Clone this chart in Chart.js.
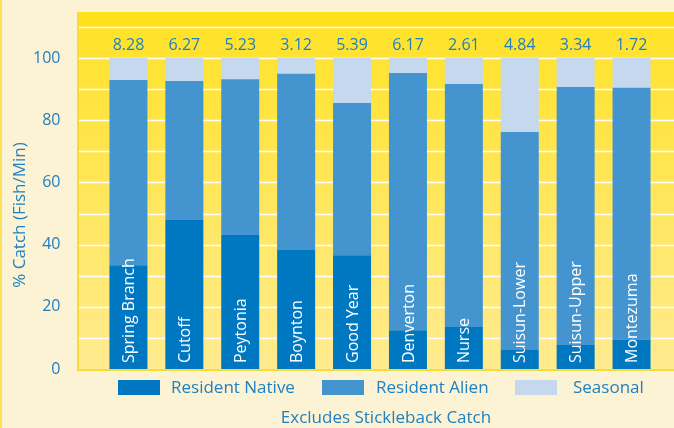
<!DOCTYPE html>
<html lang="en">
<head>
    <meta charset="UTF-8">
    <title>% Catch by Site</title>
    <script src="https://cdn.jsdelivr.net/npm/chart.js"></script>
    <style>
        body {
            margin: 0;
            padding: 0;
            background: #fcf2d4;
        }
        #wrap {
            width: 674px;
            height: 428px;
        }
    </style>
</head>
<body>
    <div id="wrap"><canvas id="chart" width="674" height="428"></canvas></div>

    <script>
        const sites = ["Spring Branch", "Cutoff", "Peytonia", "Boynton", "Good Year",
                       "Denverton", "Nurse", "Suisun-Lower", "Suisun-Upper", "Montezuma"];
        const catchRates = ["8.28", "6.27", "5.23", "3.12", "5.39", "6.17", "2.61", "4.84", "3.34", "1.72"];
        const residentNative = [33.4, 47.9, 43.1, 38.3, 36.6, 12.5, 13.5, 6.1, 7.7, 9.5];
        const residentAlien = [59.5, 44.7, 50.1, 56.6, 48.9, 82.7, 78.1, 70.1, 83.0, 80.9];
        const seasonal = [7.1, 7.4, 6.8, 5.1, 14.5, 4.8, 8.4, 23.8, 9.3, 9.6];
        const yTicks = [0, 20, 40, 60, 80, 100];

        const blueText = "#1f80c2";
        const fontName = "'Open Sans', sans-serif";

        // background, grid, labels and legend drawn around the bars
        const decor = {
            id: "decor",
            beforeDraw(chart) {
                const ctx = chart.ctx;
                const y = chart.scales.y;
                const left = 77;
                const right = chart.width;
                const top = 12;
                const bottom = y.getPixelForValue(0);
                const bandY = y.getPixelForValue(110);

                ctx.save();
                ctx.fillStyle = "#fcf2d4";
                ctx.fillRect(0, 0, chart.width, chart.height);
                ctx.fillStyle = "#fbdf55";
                ctx.fillRect(0, 0, 2, chart.height);

                const grad = ctx.createLinearGradient(0, bandY, 0, bottom);
                grad.addColorStop(0, "#ffe229");
                grad.addColorStop(1, "#ffeb90");
                ctx.fillStyle = grad;
                ctx.fillRect(left, bandY, right - left, bottom - bandY);
                ctx.fillStyle = "#ffe11b";
                ctx.fillRect(left, top, right - left, bandY - top);

                ctx.strokeStyle = "#ffffff";
                ctx.lineWidth = 1.5;
                for (let v = 10; v <= 110; v += 10) {
                    const py = Math.round(y.getPixelForValue(v)) + 0.5;
                    ctx.beginPath();
                    ctx.moveTo(left, py);
                    ctx.lineTo(right, py);
                    ctx.stroke();
                }
                ctx.strokeStyle = "#f9da3a";
                ctx.lineWidth = 2;
                ctx.beginPath();
                ctx.moveTo(left + 1, top);
                ctx.lineTo(left + 1, bottom + 1);
                ctx.lineTo(right, bottom + 1);
                ctx.stroke();
                ctx.restore();
            },
            afterDraw(chart) {
                const ctx = chart.ctx;
                const x = chart.scales.x;
                const y = chart.scales.y;
                ctx.save();

                // values above bars
                ctx.fillStyle = blueText;
                ctx.font = "16px " + fontName;
                ctx.textAlign = "center";
                ctx.textBaseline = "middle";
                catchRates.forEach((r, i) => {
                    ctx.fillText(r, x.getPixelForValue(i), 45);
                });

                // site names inside bars
                ctx.fillStyle = "#ffffff";
                ctx.font = "16px " + fontName;
                ctx.textAlign = "left";
                sites.forEach((s, i) => {
                    ctx.save();
                    ctx.translate(x.getPixelForValue(i) + 1, y.getPixelForValue(0) - 6);
                    ctx.rotate(-Math.PI / 2);
                    ctx.fillText(s, 0, 0);
                    ctx.restore();
                });

                // y title
                ctx.fillStyle = blueText;
                ctx.font = "17px " + fontName;
                ctx.textAlign = "center";
                ctx.save();
                ctx.translate(20, 215);
                ctx.rotate(-Math.PI / 2);
                ctx.fillText("% Catch (Fish/Min)", 0, 0);
                ctx.restore();

                // legend
                const boxX = [118, 322, 515];
                const textX = [171, 376, 573];
                ctx.textAlign = "left";
                chart.data.datasets.forEach((ds, i) => {
                    ctx.fillStyle = ds.backgroundColor;
                    ctx.fillRect(boxX[i], 380, 42, 15);
                    ctx.fillStyle = blueText;
                    ctx.fillText(ds.label, textX[i], 388);
                });

                // footnote
                ctx.textAlign = "center";
                ctx.fillText("Excludes Stickleback Catch", 386, 418);
                ctx.restore();
            }
        };

        new Chart(document.getElementById("chart"), {
            type: "bar",
            data: {
                labels: sites,
                datasets: [
                    { label: "Resident Native", data: residentNative, backgroundColor: "#0077c1" },
                    { label: "Resident Alien", data: residentAlien, backgroundColor: "#4494cf" },
                    { label: "Seasonal", data: seasonal, backgroundColor: "#c6d8ee" }
                ]
            },
            options: {
                responsive: false,
                animation: false,
                layout: { padding: { left: 0, right: 14.5, top: 11.35, bottom: 59 } },
                datasets: {
                    bar: { categoryPercentage: 1, barPercentage: 0.68 }
                },
                plugins: {
                    legend: { display: false },
                    tooltip: { enabled: false }
                },
                scales: {
                    x: {
                        stacked: true,
                        display: false
                    },
                    y: {
                        stacked: true,
                        min: 0,
                        max: 115,
                        afterFit(scale) {
                            scale.width = 100.5;
                            scale.paddingTop = 0;
                            scale.paddingBottom = 0;
                        },
                        afterBuildTicks(scale) { scale.ticks = yTicks.map(v => ({ value: v })); },
                        grid: { display: false },
                        border: { display: false },
                        ticks: {
                            padding: 32,
                            color: blueText,
                            font: { family: fontName, size: 16 }
                        }
                    }
                }
            },
            plugins: [decor]
        });
    </script>
</body>
</html>
